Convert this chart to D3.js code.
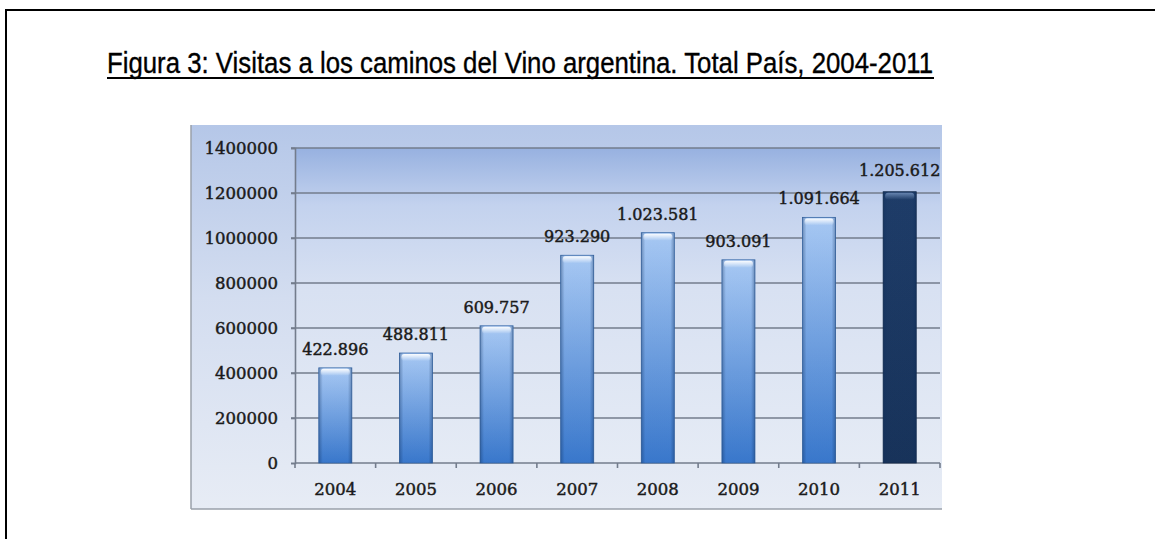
<!DOCTYPE html>
<html>
<head>
<meta charset="utf-8">
<script src="https://cdn.jsdelivr.net/npm/d3@7"></script>
<style>
  html, body { margin: 0; padding: 0; background: #fff; }
  svg { display: block; }
</style>
</head>
<body>
<svg id="chart" width="1155" height="539"></svg>
<script>
// Visitas a los caminos del Vino, total país
const years = ["2004", "2005", "2006", "2007", "2008", "2009", "2010", "2011"];
const visits = [422896, 488811, 609757, 923290, 1023581, 903091, 1091664, 1205612];
const valueLabels = ["422.896", "488.811", "609.757", "923.290", "1.023.581", "903.091", "1.091.664", "1.205.612"];
const yTicks = [0, 200000, 400000, 600000, 800000, 1000000, 1200000, 1400000];
const titleText = "Figura 3: Visitas a los caminos del Vino argentina. Total País, 2004-2011";

const svg = d3.select("#chart");
const defs = svg.append("defs");

// Page frame (top and left rules)
svg.append("line").attr("x1", 5).attr("x2", 1155).attr("y1", 10).attr("y2", 10)
  .attr("stroke", "#000").attr("stroke-width", 2);
svg.append("line").attr("x1", 6).attr("x2", 6).attr("y1", 9).attr("y2", 539)
  .attr("stroke", "#000").attr("stroke-width", 2);

// Title with underline
svg.append("text")
  .attr("x", 107).attr("y", 73)
  .attr("font-family", "'Liberation Sans', Arial, sans-serif")
  .attr("font-size", 29)
  .attr("fill", "#000")
  .attr("stroke", "#000").attr("stroke-width", 0.35)
  .attr("textLength", 826)
  .attr("lengthAdjust", "spacingAndGlyphs")
  .text(titleText);
svg.append("line").attr("x1", 107).attr("x2", 934).attr("y1", 78).attr("y2", 78)
  .attr("stroke", "#000").attr("stroke-width", 2);

// Chart panel
const panel = { x: 191, y: 125, w: 751, h: 384 };
const panelGrad = defs.append("linearGradient").attr("id", "panelGrad")
  .attr("x1", 0).attr("y1", 0).attr("x2", 0).attr("y2", 1);
panelGrad.append("stop").attr("offset", "0%").attr("stop-color", "#b5c7e8");
panelGrad.append("stop").attr("offset", "45%").attr("stop-color", "#d3ddf0");
panelGrad.append("stop").attr("offset", "100%").attr("stop-color", "#e7ecf5");
svg.append("rect").attr("x", panel.x).attr("y", panel.y)
  .attr("width", panel.w).attr("height", panel.h).attr("fill", "url(#panelGrad)");
svg.append("line").attr("x1", panel.x).attr("x2", panel.x)
  .attr("y1", panel.y).attr("y2", panel.y + panel.h)
  .attr("stroke", "#9aa0aa").attr("stroke-width", 1.5);
svg.append("line").attr("x1", panel.x).attr("x2", panel.x + panel.w)
  .attr("y1", panel.y + panel.h).attr("y2", panel.y + panel.h)
  .attr("stroke", "#9aa0aa").attr("stroke-width", 1.5);

// Plot area
const plot = { left: 295, right: 940, top: 148, bottom: 463 };
const x = d3.scaleBand().domain(years).range([plot.left, plot.right]).paddingInner(0.59).paddingOuter(0.295);
const xOuter = d3.scaleBand().domain(years).range([plot.left, plot.right]);
const y = d3.scaleLinear().domain([0, 1400000]).range([plot.bottom, plot.top]);

const plotGrad = defs.append("linearGradient").attr("id", "plotGrad")
  .attr("x1", 0).attr("y1", 0).attr("x2", 0).attr("y2", 1);
plotGrad.append("stop").attr("offset", "0%").attr("stop-color", "#97b1e0");
plotGrad.append("stop").attr("offset", "18%").attr("stop-color", "#c3d2ee");
plotGrad.append("stop").attr("offset", "45%").attr("stop-color", "#d8e1f2");
plotGrad.append("stop").attr("offset", "100%").attr("stop-color", "#e5ebf5");
svg.append("rect").attr("x", plot.left).attr("y", plot.top)
  .attr("width", plot.right - plot.left).attr("height", plot.bottom - plot.top)
  .attr("fill", "url(#plotGrad)");

// Gridlines
svg.append("g").selectAll("line").data(yTicks.filter(d => d > 0)).join("line")
  .attr("x1", plot.left - 4).attr("x2", plot.right)
  .attr("y1", d => y(d)).attr("y2", d => y(d))
  .attr("stroke", "#737c8c").attr("stroke-width", 1.6);

const labelFont = "'DejaVu Serif', serif";
const inkColor = "#1a1a1a";

// Y axis
const yAxis = svg.append("g").attr("transform", `translate(${plot.left},0)`)
  .call(d3.axisLeft(y).tickValues(yTicks).tickFormat(d3.format("d")).tickSize(4).tickPadding(13));
yAxis.select(".domain").attr("stroke", "#737c8c").attr("stroke-width", 1.6);
yAxis.selectAll(".tick line").attr("stroke", "#737c8c").attr("stroke-width", 1.6);
yAxis.selectAll("text")
  .attr("font-family", labelFont).attr("font-size", 16.5).attr("fill", inkColor)
  .attr("stroke", inkColor).attr("stroke-width", 0.45);

// X axis with ticks between categories
const xAxisG = svg.append("g").attr("transform", `translate(0,${plot.bottom})`);
xAxisG.append("line").attr("x1", plot.left).attr("x2", plot.right)
  .attr("stroke", "#737c8c").attr("stroke-width", 1.6);
xAxisG.selectAll(".xtick").data(years.concat(["end"])).join("line")
  .attr("class", "xtick")
  .attr("x1", (d, i) => i < years.length ? xOuter(d) : plot.right)
  .attr("x2", (d, i) => i < years.length ? xOuter(d) : plot.right)
  .attr("y1", 0).attr("y2", 5)
  .attr("stroke", "#737c8c").attr("stroke-width", 1.6);
xAxisG.selectAll(".xlabel").data(years).join("text")
  .attr("class", "xlabel")
  .attr("x", d => x(d) + x.bandwidth() / 2)
  .attr("y", 32)
  .attr("text-anchor", "middle")
  .attr("font-family", labelFont).attr("font-size", 16.5).attr("fill", inkColor)
  .attr("stroke", inkColor).attr("stroke-width", 0.45)
  .text(d => d);

// Bar gradients
function barGradient(id, top, bottom) {
  const g = defs.append("linearGradient").attr("id", id)
    .attr("x1", 0).attr("y1", 0).attr("x2", 0).attr("y2", 1);
  g.append("stop").attr("offset", "0%").attr("stop-color", top);
  g.append("stop").attr("offset", "100%").attr("stop-color", bottom);
}
barGradient("barBlue", "#afd0fb", "#3b7bd1");
barGradient("barDark", "#1f3d69", "#18335a");

const sideShade = defs.append("linearGradient").attr("id", "sideShade")
  .attr("x1", 0).attr("y1", 0).attr("x2", 1).attr("y2", 0);
sideShade.append("stop").attr("offset", "0%").attr("stop-color", "#0d2d5a").attr("stop-opacity", 0.4);
sideShade.append("stop").attr("offset", "12%").attr("stop-color", "#0d2d5a").attr("stop-opacity", 0.05);
sideShade.append("stop").attr("offset", "88%").attr("stop-color", "#0d2d5a").attr("stop-opacity", 0.05);
sideShade.append("stop").attr("offset", "100%").attr("stop-color", "#0d2d5a").attr("stop-opacity", 0.4);

const capGrad = defs.append("linearGradient").attr("id", "capGrad")
  .attr("x1", 0).attr("y1", 0).attr("x2", 0).attr("y2", 1);
capGrad.append("stop").attr("offset", "0%").attr("stop-color", "#ffffff").attr("stop-opacity", 0.95);
capGrad.append("stop").attr("offset", "100%").attr("stop-color", "#ffffff").attr("stop-opacity", 0);

const capGradDark = defs.append("linearGradient").attr("id", "capGradDark")
  .attr("x1", 0).attr("y1", 0).attr("x2", 0).attr("y2", 1);
capGradDark.append("stop").attr("offset", "0%").attr("stop-color", "#6f8db8").attr("stop-opacity", 0.9);
capGradDark.append("stop").attr("offset", "100%").attr("stop-color", "#6f8db8").attr("stop-opacity", 0);

const bars = svg.append("g").selectAll("g").data(years).join("g");
bars.append("rect")
  .attr("x", d => x(d)).attr("width", x.bandwidth())
  .attr("y", (d, i) => y(visits[i]))
  .attr("height", (d, i) => plot.bottom - y(visits[i]))
  .attr("fill", (d, i) => i === years.length - 1 ? "url(#barDark)" : "url(#barBlue)")
  .attr("stroke", (d, i) => i === years.length - 1 ? "#142a4a" : "#3a6aa8")
  .attr("stroke-width", 0.8);
bars.append("rect")
  .attr("x", d => x(d)).attr("width", x.bandwidth())
  .attr("y", (d, i) => y(visits[i]))
  .attr("height", (d, i) => plot.bottom - y(visits[i]))
  .attr("fill", "url(#sideShade)");
bars.append("rect")
  .attr("x", d => x(d) + 2).attr("width", x.bandwidth() - 4)
  .attr("y", (d, i) => y(visits[i]) + 1)
  .attr("height", 7).attr("rx", 3)
  .attr("fill", (d, i) => i === years.length - 1 ? "url(#capGradDark)" : "url(#capGrad)");

// Value labels
svg.append("g").selectAll("text").data(years).join("text")
  .attr("x", d => x(d) + x.bandwidth() / 2)
  .attr("y", (d, i) => y(visits[i]) - (i === years.length - 1 ? 16 : 13))
  .attr("text-anchor", "middle")
  .attr("font-family", labelFont).attr("font-size", 16).attr("fill", inkColor)
  .attr("stroke", inkColor).attr("stroke-width", 0.45)
  .text((d, i) => valueLabels[i]);
</script>
</body>
</html>
